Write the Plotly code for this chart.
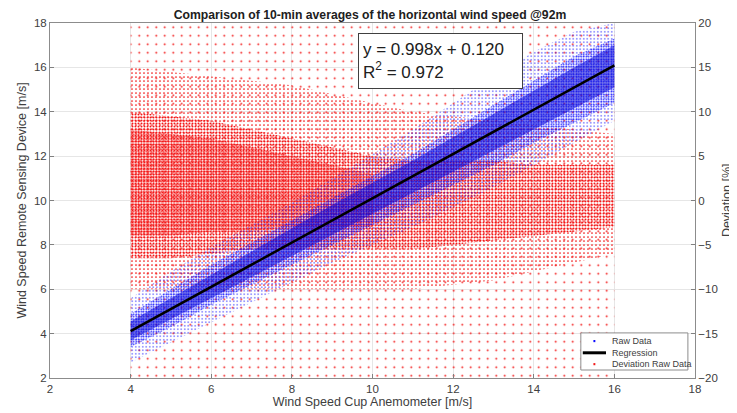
import plotly.graph_objects as go

# ---- values ----
# wind speed (cup anemometer) positions where the envelopes were read
cup_speed = [4, 5, 6, 7, 8, 9, 10, 11, 12, 13, 14, 15, 16]

# Raw data cloud (remote sensing speed, m/s): centre, dense core and sparse outer envelope
raw_center_low = [3.7, 4.65, 5.6, 6.55, 7.5, 8.45, 9.4, 10.35, 11.3, 12.25, 13.2, 14.15, 15.1]
raw_center_high = [4.55, 5.6, 6.65, 7.7, 8.75, 9.8, 10.8, 11.8, 12.85, 13.9, 14.95, 16.0, 17.0]
raw_core_low = [3.4, 4.3, 5.3, 6.2, 7.1, 8.0, 8.9, 9.8, 10.7, 11.6, 12.6, 13.5, 14.4]
raw_core_high = [4.9, 6.0, 7.1, 8.1, 9.1, 10.1, 11.1, 12.1, 13.2, 14.3, 15.4, 16.5, 17.3]
raw_outer_low = [2.7, 3.6, 4.5, 5.4, 6.3, 7.2, 8.0, 8.8, 9.7, 10.6, 11.6, 12.6, 13.6]
raw_outer_high = [5.6, 6.8, 7.9, 8.9, 9.9, 11.0, 12.1, 13.2, 14.4, 15.6, 16.7, 17.6, 18.0]

# Deviation raw data cloud (%): densest part (low wind speeds), core, medium band, sparse extent
dense_speed = [4, 5, 6, 7, 8, 9, 10]
dev_dense_low = [-4, -4, -3.5, -3.5, -3, -3, -3]
dev_dense_high = [8, 7.5, 7, 6, 5, 4, 3]
dev_core_low = [-6.5, -6.5, -6, -5.5, -5.5, -5.5, -5.5, -5.5, -5, -4.5, -4, -3.5, -3]
dev_core_high = [10, 9.5, 9, 8, 7, 6, 5, 4.5, 4.5, 4.5, 4, 4, 4]
dev_mid_low = [-10, -10, -10, -10, -10, -10, -10, -10, -9.5, -9, -8, -7, -6]
dev_mid_high = [15, 14.5, 14, 13.5, 13, 12, 11, 10, 9.5, 9, 8.5, 8, 7.5]
dev_sparse_low = [-20] * 13
dev_sparse_high = [20] * 13

# Regression line end points (y = 0.998x + 0.120)
reg_x = [4, 16]
reg_y = [4.112, 16.088]

x_ticks = [2, 4, 6, 8, 10, 12, 14, 16, 18]
y_ticks = [2, 4, 6, 8, 10, 12, 14, 16, 18]
dev_ticks = [-20, -15, -10, -5, 0, 5, 10, 15, 20]

legend_names = ["Raw Data", "Regression", "Deviation Raw Data"]

FONT = "Liberation Sans, Arial, sans-serif"
TXT = "#404040"
BLUE = "#0a0aff"
RED = "#f21818"

fig = go.Figure()


def cloud(xs, lo, hi, yaxis, fg, size, solidity, bg="rgba(0,0,0,0)"):
    fig.add_trace(go.Scatter(
        x=xs + xs[::-1],
        y=lo + hi[::-1],
        mode="lines",
        line=dict(width=0, color="rgba(0,0,0,0)"),
        fill="toself",
        fillcolor=bg,
        fillpattern=dict(shape=".", fgcolor=fg, bgcolor=bg, size=size, solidity=solidity),
        hoverinfo="skip",
        showlegend=False,
        yaxis=yaxis,
    ))


# deviation raw data (red) on the right-hand deviation axis ("y")
cloud(cup_speed, dev_sparse_low, dev_sparse_high, "y", RED, 8.5, 0.04)
cloud(cup_speed, dev_mid_low, dev_mid_high, "y", RED, 4, 0.15)
cloud(cup_speed, dev_core_low, dev_core_high, "y", RED, 3, 0.36)
cloud(dense_speed, dev_dense_low, dev_dense_high, "y", RED, 2.5, 0.4)

# raw data (blue) on the left-hand speed axis ("y2"), drawn above the red cloud
cloud(cup_speed, raw_outer_low, raw_outer_high, "y2", BLUE, 3.5, 0.12)
cloud(cup_speed, raw_core_low, raw_core_high, "y2", BLUE, 2.5, 0.32)
cloud(cup_speed, raw_center_low, raw_center_high, "y2", "#0000d8", 2, 0.45, "rgba(20,20,220,0.22)")

# regression line
fig.add_trace(go.Scatter(x=reg_x, y=reg_y, mode="lines", line=dict(color="black", width=2.5),
                         name="Regression", showlegend=False, hoverinfo="skip", yaxis="y2"))

# page body has an 8 px margin: figure is 8 px smaller so the page is 737x413
W, H = 729, 405
L, R, T, B = 42, 42, 15, 35

# hand-built compact legend (paper coordinates)
lx0, lx1, ly0, ly1 = 0.823, 0.989, 0.0225, 0.127
rows = [0.104, 0.071, 0.039]
shapes = [
    dict(type="rect", xref="paper", yref="paper", x0=lx0, x1=lx1, y0=ly0, y1=ly1,
         line=dict(color="#8c8c8c", width=1), fillcolor="white", layer="above"),
    dict(type="line", xref="paper", yref="paper", x0=0.826, x1=0.862, y0=rows[1], y1=rows[1],
         line=dict(color="black", width=3), layer="above"),
    dict(type="rect", xref="paper", yref="paper", x0=0.8425, x1=0.8455, y0=rows[0] - 0.003,
         y1=rows[0] + 0.003, line=dict(width=0), fillcolor=BLUE, layer="above"),
    dict(type="rect", xref="paper", yref="paper", x0=0.8425, x1=0.8455, y0=rows[2] - 0.003,
         y1=rows[2] + 0.003, line=dict(width=0), fillcolor=RED, layer="above"),
]
annotations = [
    dict(xref="paper", yref="paper", x=0.4775, y=0.972, xanchor="left", yanchor="top",
         text="y = 0.998x + 0.120<br>R<sup>2</sup> = 0.972", align="left", showarrow=False,
         font=dict(size=17, color="#202020", family=FONT), width=155, height=46,
         bgcolor="white", bordercolor="#404040", borderwidth=1, borderpad=4),
    dict(xref="paper", yref="paper", x=1.049, y=0.5, xanchor="center", yanchor="middle",
         text="Deviation [%]", textangle=-90, showarrow=False,
         font=dict(size=12.5, color=TXT, family=FONT)),
]
for name, ry in zip(legend_names, rows):
    annotations.append(dict(xref="paper", yref="paper", x=0.868, y=ry, xanchor="left",
                            yanchor="middle", text=name, showarrow=False,
                            font=dict(size=9, color=TXT, family=FONT)))

axis_common = dict(ticks="inside", ticklen=4, tickcolor="#808080",
                   showline=True, linecolor="#8c8c8c", linewidth=1,
                   zeroline=False, automargin=False)

fig.update_layout(
    template="none",
    width=W, height=H,
    margin=dict(l=L, r=R, t=T, b=B),
    paper_bgcolor="white", plot_bgcolor="white",
    showlegend=False,
    font=dict(family=FONT, color=TXT, size=11.5),
    title=dict(text="<b>Comparison of 10-min averages of the horizontal wind speed @92m</b>",
               x=0.4966, xanchor="center", y=0.983, yanchor="middle",
               font=dict(size=12.2, color="#202020", family=FONT)),
    xaxis=dict(range=[2, 18], tickvals=x_ticks, mirror=True,
               showgrid=True, gridcolor="#e6e6e6",
               title=dict(text="Wind Speed Cup Anemometer [m/s]", font=dict(size=12.5), standoff=3),
               **axis_common),
    yaxis=dict(range=[-20, 20], tickvals=dev_ticks, side="right",
               showgrid=True, gridcolor="#e6e6e6",
               **axis_common),
    yaxis2=dict(range=[2, 18], tickvals=y_ticks, overlaying="y", side="left",
                showgrid=False,
                title=dict(text="Wind Speed Remote Sensing Device [m/s]", font=dict(size=12.5), standoff=4),
                **axis_common),
    shapes=shapes,
    annotations=annotations,
)

fig.write_html("out.html")
